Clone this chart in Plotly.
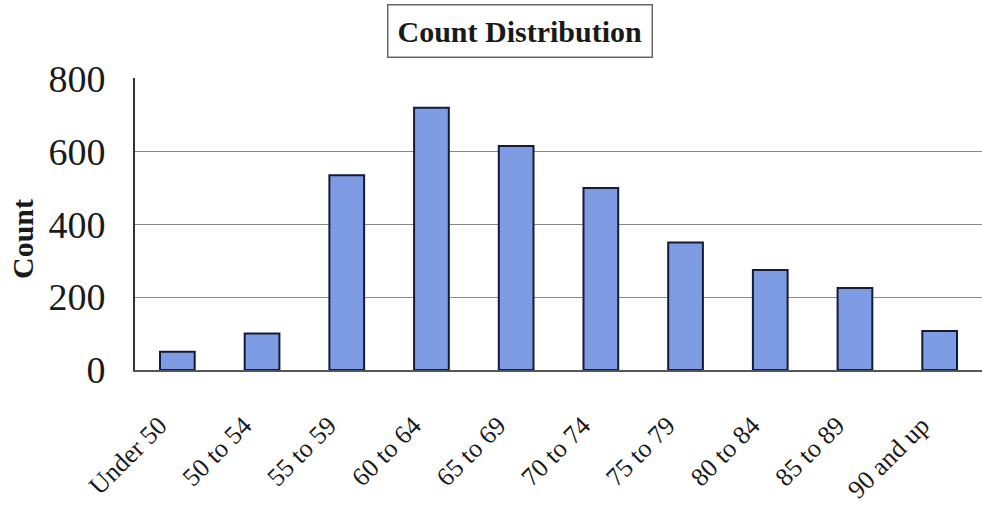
import plotly.graph_objects as go

categories = ["Under 50", "50 to 54", "55 to 59", "60 to 64", "65 to 69",
              "70 to 74", "75 to 79", "80 to 84", "85 to 89", "90 and up"]
counts = [50, 100, 535, 720, 615, 500, 350, 275, 225, 107]
y_ticks = [0, 200, 400, 600, 800]

L, T, B, H, W = 135, 78, 136, 506, 982
PW, PH = W - L, H - T - B

fig = go.Figure()
fig.add_trace(go.Bar(
    x=categories, y=counts,
    marker=dict(color="#7d9ce4", line=dict(color="#151a3a", width=2)),
))

fig.update_layout(
    width=W, height=H,
    margin=dict(l=L, r=0, t=T, b=B, autoexpand=False),
    paper_bgcolor="white", plot_bgcolor="white",
    bargap=0.59,
    showlegend=False,
    font=dict(family="Liberation Serif", color="#1a1a1a"),
    xaxis=dict(
        tickangle=-45,
        tickfont=dict(family="Liberation Serif", size=26, color="#1a1a1a"),
        showline=True, linecolor="#555", linewidth=2,
        ticks="", showgrid=False, ticklabelstandoff=28, ticklabelshift=-18,
    ),
    yaxis=dict(
        range=[0, 802],
        tickvals=y_ticks,
        tickfont=dict(family="Liberation Serif", size=38, color="#1a1a1a"),
        showgrid=True, gridcolor="#8a8a8a", gridwidth=1,
        showline=True, linecolor="#333", linewidth=2,
        zeroline=False, ticks="", ticklabelstandoff=20,
    ),
    annotations=[
        dict(
            text="<b>Count Distribution</b>",
            xref="paper", yref="paper", x=(520 - L) / PW, y=1.0 + (T - 31) / PH,
            xanchor="center", yanchor="middle", showarrow=False,
            font=dict(family="Liberation Serif", size=30, color="#1a1a1a"),
            bordercolor="#666", borderwidth=1.5, borderpad=9, bgcolor="white",
        ),
        dict(
            text="<b>Count</b>", textangle=-90,
            xref="paper", yref="paper", x=(22 - L) / PW, y=(H - B - 239) / PH,
            xanchor="center", yanchor="middle", showarrow=False,
            font=dict(family="Liberation Serif", size=30, color="#1a1a1a"),
        ),
    ],
)

fig.write_html("out.html", config={"displayModeBar": False},
               post_script="document.body.style.margin='0';")
